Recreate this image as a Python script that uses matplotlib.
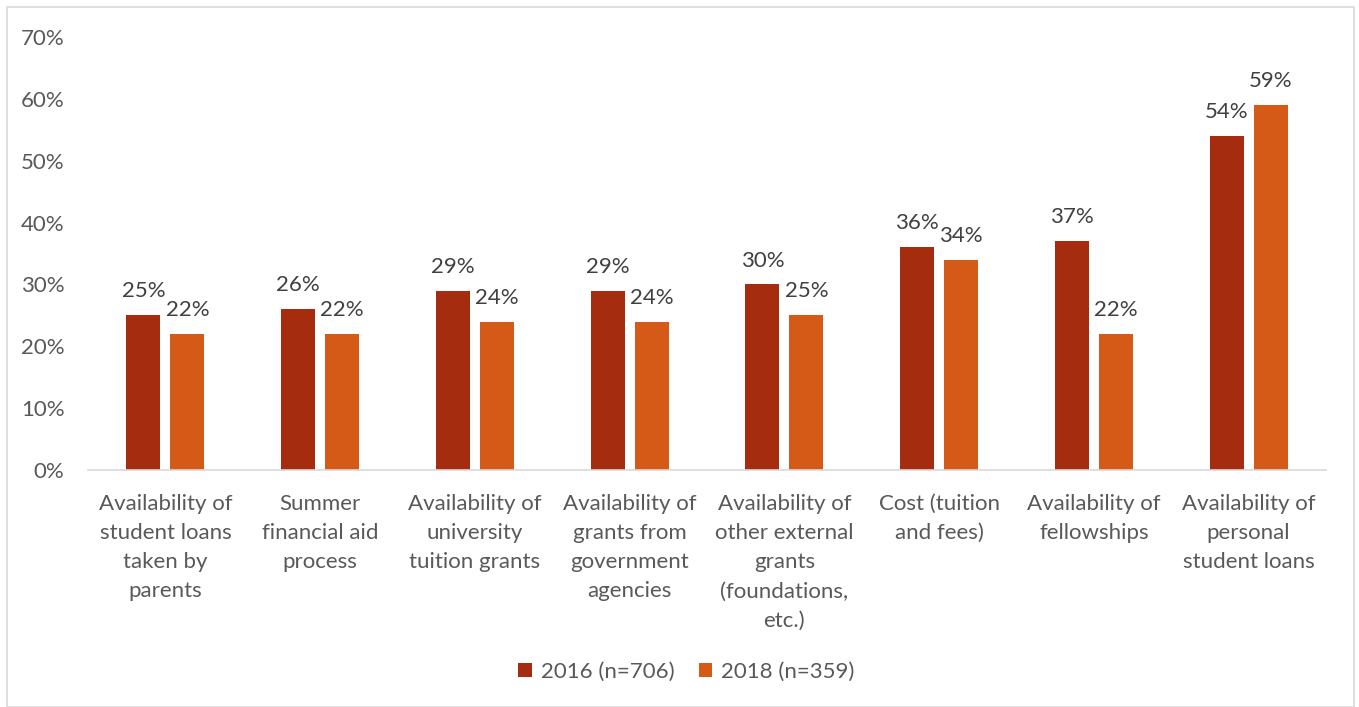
import matplotlib.pyplot as plt
import numpy as np
from matplotlib.patches import Rectangle

categories = [
    "Availability of\nstudent loans\ntaken by\nparents",
    "Summer\nfinancial aid\nprocess",
    "Availability of\nuniversity\ntuition grants",
    "Availability of\ngrants from\ngovernment\nagencies",
    "Availability of\nother external\ngrants\n(foundations,\netc.)",
    "Cost (tuition\nand fees)",
    "Availability of\nfellowships",
    "Availability of\npersonal\nstudent loans",
]
vals_2016 = [25, 26, 29, 29, 30, 36, 37, 54]
vals_2018 = [22, 22, 24, 24, 25, 34, 22, 59]
series_names = ["2016 (n=706)", "2018 (n=359)"]

plt.rcParams['font.family'] = ['Lato', 'DejaVu Sans']

fig = plt.figure(figsize=(13.59, 7.07), dpi=100)
ax = fig.add_axes([0.0648, 0.3352, 0.9109, 0.6125])

x = np.arange(len(categories))
w = 0.22
off = 0.142
b1 = ax.bar(x - off, vals_2016, w, color='#A52C0F', label=series_names[0])
b2 = ax.bar(x + off, vals_2018, w, color='#D55A18', label=series_names[1])

for bars in (b1, b2):
    for rect in bars:
        h = rect.get_height()
        ax.annotate(f"{h:.0f}%", (rect.get_x() + rect.get_width() / 2, h),
                    xytext=(0, 10), textcoords='offset points',
                    ha='center', va='bottom', fontsize=16, color='#404040')

ax.set_xlim(-0.5, len(categories) - 0.5)
ax.set_ylim(0, 70)
ax.set_yticks(range(0, 71, 10))
ax.set_yticklabels([f"{t}%" for t in range(0, 71, 10)])
ax.set_xticks(x)
ax.set_xticklabels(categories, va='top', linespacing=1.58)
ax.tick_params(axis='both', length=0, labelsize=16, labelcolor='#595959')
ax.tick_params(axis='y', pad=17)
ax.tick_params(axis='x', pad=17)
for s in ('top', 'right', 'left'):
    ax.spines[s].set_visible(False)
ax.spines['bottom'].set_color('#D9D9D9')
ax.spines['bottom'].set_linewidth(1.2)

fig.legend(handles=[b1, b2], loc='center', bbox_to_anchor=(0.505, 1 - 672 / 707),
           ncol=2, frameon=False, fontsize=16, labelcolor='#595959',
           handlelength=0.6, handleheight=0.6, columnspacing=1.1, handletextpad=0.4)

# light outline around the chart area
fig.patches.append(Rectangle((7 / 1359, 0), 1347 / 1359, 700 / 707, transform=fig.transFigure,
                             fill=False, edgecolor='#D9D9D9', linewidth=1.2))

fig.savefig('out.png', dpi=100)
